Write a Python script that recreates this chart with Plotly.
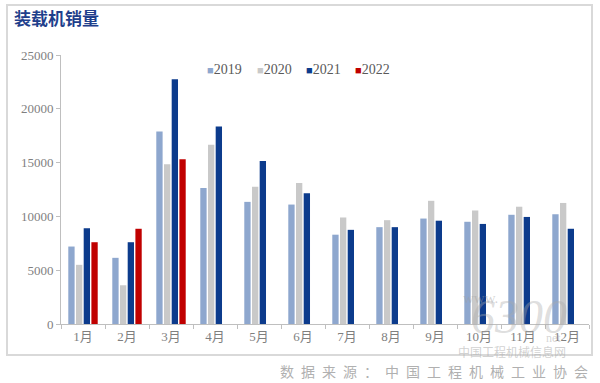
import plotly.graph_objects as go

months = ["1月", "2月", "3月", "4月", "5月", "6月", "7月", "8月", "9月", "10月", "11月", "12月"]
years = ["2019", "2020", "2021", "2022"]
sales_2019 = [7200, 6150, 17900, 12650, 11350, 11100, 8300, 9000, 9800, 9500, 10150, 10200]
sales_2020 = [5500, 3600, 14850, 16650, 12750, 13100, 9900, 9650, 11450, 10550, 10900, 11250]
sales_2021 = [8900, 7600, 22750, 18350, 15150, 12150, 8750, 9000, 9600, 9300, 9950, 8850]
sales_2022 = [7600, 8850, 15300, None, None, None, None, None, None, None, None, None]
y_ticks = [0, 5000, 10000, 15000, 20000, 25000]

colors = ["#8EA7CE", "#C9C9C9", "#0C3B8C", "#C00000"]
series = [sales_2019, sales_2020, sales_2021, sales_2022]

W, H = 600, 383
L, R, T, B = 61, 11, 55, 59
pw, ph = W - L - R, H - T - B

def px(x):
    return (x - L) / pw

def py(y):
    return (H - B - y) / ph

fig = go.Figure()
for name, vals, c in zip(years, series, colors):
    fig.add_trace(go.Bar(x=months, y=vals, name=name, marker=dict(color=c, line=dict(width=0))))

serif = "Liberation Serif, Noto Sans CJK SC, serif"
grey = "#7F7F7F"

annotations = []
# legend drawn as text
leg_x = [205, 255, 304, 353]
for name, c, lx in zip(years, colors, leg_x):
    annotations.append(dict(
        x=px(lx), y=py(70), xref="paper", yref="paper", xanchor="left", yanchor="middle",
        text=f"<span style='color:{c};font-size:11px'>■</span>{name}",
        showarrow=False, font=dict(family=serif, size=14, color="#595959")))

# source
annotations.append(dict(
    x=px(590), y=py(371), xref="paper", yref="paper", xanchor="right", yanchor="middle",
    text="\u2002".join("数据来源：中国工程机械工业协会"), showarrow=False,
    font=dict(family="Noto Sans CJK SC, serif", size=14, color="#B0B0B0")))

# watermark
wm = [
    ("www.", 480, 298, 15, serif, "normal", "rgba(160,160,160,0.45)"),
    ("6300", 519, 316, 48, serif, "italic", "rgba(170,170,170,0.40)"),
    ("net", 553, 338, 12, serif, "normal", "rgba(160,160,160,0.45)"),
    ("中国工程机械信息网", 512, 352, 12, "Noto Sans CJK SC", "normal", "rgba(170,170,170,0.55)"),
]
for t, x, y, s, fam, st, col in wm:
    annotations.append(dict(x=px(x), y=py(y), xref="paper", yref="paper", xanchor="center", yanchor="middle",
                            text=t, showarrow=False, font=dict(family=fam, size=s, style=st, color=col)))

fig.update_layout(
    width=W, height=H,
    margin=dict(l=L, r=R, t=T, b=B),
    paper_bgcolor="white", plot_bgcolor="white",
    barmode="group", bargap=0.3, bargroupgap=0.18,
    showlegend=False,
    title=dict(text="<b>装载机销量</b>", x=14 / W, y=1 - 19 / H, xanchor="left", yanchor="middle",
               font=dict(family="Noto Sans CJK SC", size=17, color="#1F3F8C")),
    annotations=annotations,
    shapes=[dict(type="rect", xref="paper", yref="paper",
                 x0=px(7), x1=px(592), y0=py(355), y1=py(5),
                 line=dict(color="#D9D9D9", width=2), layer="below")],
    xaxis=dict(showline=True, linecolor="#BFBFBF", linewidth=1, ticks="outside", tickson="boundaries",
               ticklen=4, tickcolor="#BFBFBF", showgrid=False,
               tickfont=dict(family=serif, size=13, color=grey)),
    yaxis=dict(range=[0, 25000], tickvals=y_ticks, ticktext=[str(v) for v in y_ticks],
               showline=True, linecolor="#BFBFBF", linewidth=1, ticks="outside", ticklen=4,
               tickcolor="#BFBFBF", showgrid=False, zeroline=False,
               tickfont=dict(family=serif, size=13, color=grey)),
)

fig.write_html("out.html", config={"displayModeBar": False},
               post_script="document.body.style.margin='0';document.body.style.overflow='hidden';")
